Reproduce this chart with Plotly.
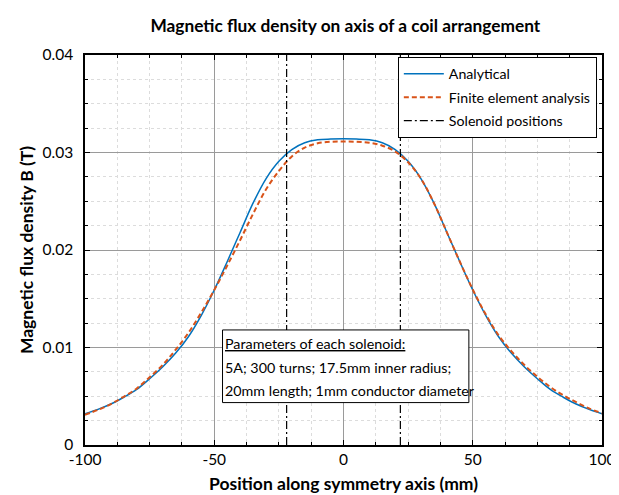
import plotly.graph_objects as go

# ---- data ----
x_pos = [-100, -95, -90, -85, -80, -75, -70, -65, -60, -55, -50, -45, -40, -35, -30, -25, -20, -15, -10, -5,
         0, 5, 10, 15, 20, 25, 30, 35, 40, 45, 50, 55, 60, 65, 70, 75, 80, 85, 90, 95, 100]
b_analytical = [0.00320, 0.00365, 0.00420, 0.00490, 0.00570, 0.00680, 0.00800, 0.00940, 0.01110, 0.01330,
                0.01590, 0.01880, 0.02180, 0.02480, 0.02730, 0.02910, 0.03030, 0.03100, 0.03130, 0.03138,
                0.03140,
                0.03138, 0.03130, 0.03100, 0.03030, 0.02910, 0.02730, 0.02480, 0.02180, 0.01880, 0.01590,
                0.01330, 0.01110, 0.00940, 0.00800, 0.00680, 0.00570, 0.00490, 0.00420, 0.00365, 0.00320]
b_fea = [0.00310, 0.00360, 0.00420, 0.00495, 0.00580, 0.00695, 0.00820, 0.00975, 0.01150, 0.01360,
         0.01590, 0.01840, 0.02100, 0.02370, 0.02620, 0.02810, 0.02960, 0.03050, 0.03095, 0.03110,
         0.03112,
         0.03110, 0.03100, 0.03070, 0.03010, 0.02900, 0.02730, 0.02480, 0.02180, 0.01880, 0.01595,
         0.01340, 0.01125, 0.00960, 0.00820, 0.00700, 0.00595, 0.00510, 0.00440, 0.00375, 0.00325]
solenoid_x = [-22, -22, None, 22, 22]
solenoid_y = [0, 0.04, None, 0, 0.04]

x_ticks = [-100, -50, 0, 50, 100]
x_ticktext = ["-100", "-50", "0", "50", "100"]
y_ticks = [0, 0.01, 0.02, 0.03, 0.04]
y_ticktext = ["0", "0.01", "0.02", "0.03", "0.04"]

note_lines = ["<u>Parameters of each solenoid:</u>",
              "5A; 300 turns; 17.5mm inner radius;",
              "20mm length; 1mm conductor diameter"]

FONT = "Lato, 'DejaVu Sans', sans-serif"

fig = go.Figure()
fig.add_trace(go.Scatter(x=x_pos, y=b_analytical, mode="lines", name="Analytical", legendgroup="a",
                         line=dict(color="#0072BD", width=1.5, shape="spline")))
fig.add_trace(go.Scatter(x=x_pos, y=b_fea, mode="lines", name="Finite element analysis", legendgroup="b",
                         line=dict(color="#D95319", width=2, dash="5px,3px", shape="spline")))
fig.add_trace(go.Scatter(x=solenoid_x, y=solenoid_y, mode="lines", name="Solenoid positions", legendgroup="c",
                         line=dict(color="black", width=1.2, dash="8px,3px,2px,3px")))

axis_common = dict(
    showline=True, linecolor="black", linewidth=1.5, mirror="ticks",
    ticks="inside", ticklen=5, tickcolor="black",
    showgrid=True, gridcolor="#9a9a9a", gridwidth=1,
    zeroline=False,
    tickfont=dict(family=FONT, size=15.5, color="black"),
)

fig.update_xaxes(range=[-100, 100], tickvals=x_ticks, ticktext=x_ticktext, ticklabelstandoff=0,
                 title=dict(text="<b>Position along symmetry axis (mm)</b>",
                            font=dict(family=FONT, size=17.5, color="black"), standoff=10),
                 minor=dict(dtick=12.5, tick0=0, ticks="inside", ticklen=3, tickcolor="black",
                            showgrid=True, gridcolor="#dcdcdc", griddash="dot"),
                 **axis_common)
fig.update_yaxes(range=[0, 0.04], tickvals=y_ticks, ticktext=y_ticktext, ticklabelstandoff=7,
                 title=dict(text="<b>Magnetic flux density B (T)</b>",
                            font=dict(family=FONT, size=17.5, color="black"), standoff=4),
                 minor=dict(dtick=0.0025, tick0=0, ticks="inside", ticklen=3, tickcolor="black",
                            showgrid=True, gridcolor="#dcdcdc", griddash="dot"),
                 **axis_common)

# annotation box
fig.add_shape(type="rect", xref="x", yref="y", x0=-46.8, x1=48.5, y0=0.00435, y1=0.0118,
              line=dict(color="black", width=1), fillcolor="white", layer="above")
for txt, yy in zip(note_lines, [0.01045, 0.0080, 0.00555]):
    fig.add_annotation(xref="x", yref="y", x=-46.5, y=yy, xanchor="left", yanchor="middle",
                       text=txt, showarrow=False, align="left",
                       font=dict(family=FONT, size=14.3, color="black"))

fig.update_layout(
    width=619, height=495,
    margin=dict(l=77, r=13, t=47, b=53),
    paper_bgcolor="white", plot_bgcolor="white",
    title=dict(text="<b>Magnetic flux density on axis of a coil arrangement</b>",
               x=0.545, xanchor="center", y=0.963, yanchor="middle",
               font=dict(family=FONT, size=17.3, color="black")),
    legend=dict(x=0.99, y=0.995, xanchor="right", yanchor="top",
                bgcolor="white", bordercolor="black", borderwidth=1,
                font=dict(family=FONT, size=14.2, color="black"),
                tracegroupgap=2, itemwidth=40),
    showlegend=True,
)

fig.write_html("out.html")
